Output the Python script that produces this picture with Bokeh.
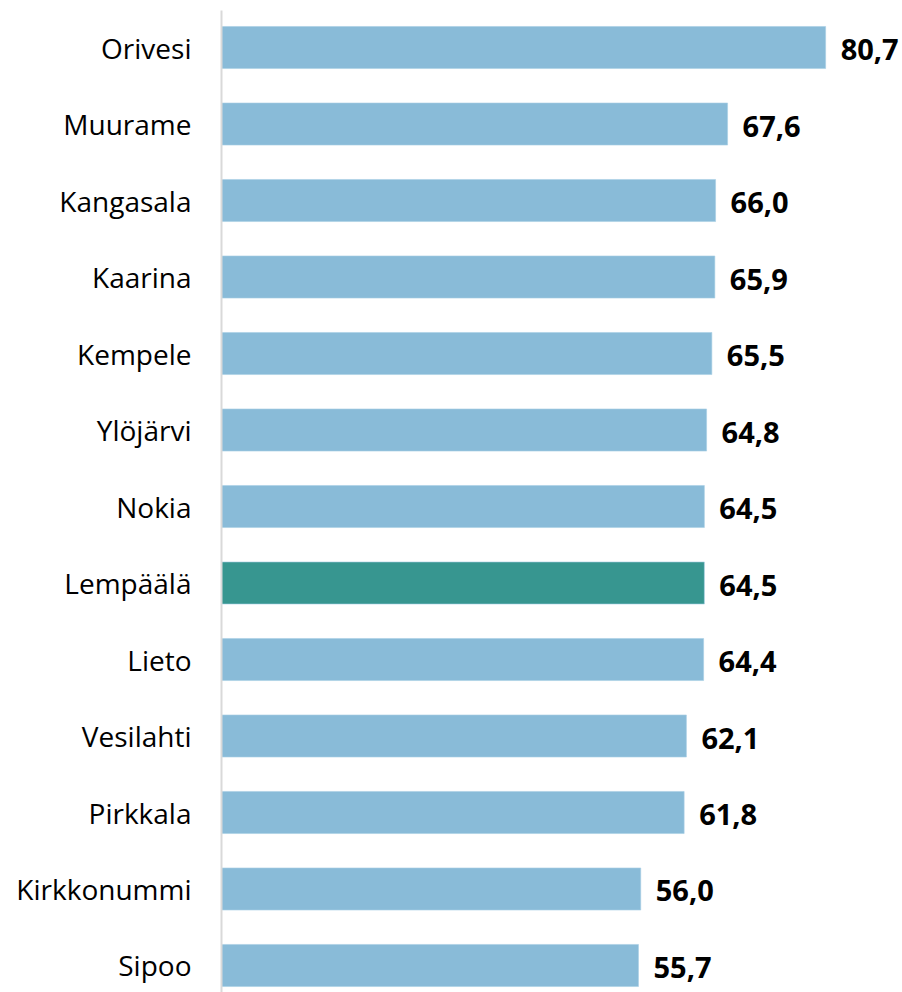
from bokeh.plotting import figure
from bokeh.models import ColumnDataSource, Range1d, FixedTicker
from bokeh.core.properties import value
from bokeh.embed import file_html
from bokeh.resources import INLINE

municipalities = ["Orivesi", "Muurame", "Kangasala", "Kaarina", "Kempele", "Ylöjärvi",
                  "Nokia", "Lempäälä", "Lieto", "Vesilahti", "Pirkkala", "Kirkkonummi", "Sipoo"]
values = [80.7, 67.6, 66.0, 65.9, 65.5, 64.8, 64.5, 64.5, 64.4, 62.1, 61.8, 56.0, 55.7]
highlight = "Lempäälä"

n = len(municipalities)
ypos = [n - 1 - i for i in range(n)]
colors = ["#379690" if m == highlight else "#89bbd8" for m in municipalities]
labels = [f"{v:.1f}".replace(".", ",") for v in values]

src = ColumnDataSource(dict(y=ypos, v=values, c=colors, lab=labels, name=municipalities))

p = figure(width=900, height=992, output_backend="svg", toolbar_location=None,
           x_range=Range1d(0, 90.7), y_range=Range1d(-0.353, 12.484),
           min_border_left=221, min_border_right=0, min_border_top=10, min_border_bottom=0)

p.hbar(y="y", right="v", left=0, height=0.55, fill_color="c", line_color="#a8cfe4",
       line_width=1, line_alpha=0.6, source=src)
p.text(x="v", y="y", text="lab", x_offset=15, y_offset=2, text_baseline="middle",
       text_align="left", text_font=value("Open Sans"), text_font_style="bold",
       text_font_size="29px", text_color="#000000", source=src)

p.xaxis.visible = False
p.xgrid.visible = False
p.ygrid.visible = False
p.outline_line_color = None

ax = p.yaxis[0]
ax.ticker = FixedTicker(ticks=ypos)
ax.major_label_overrides = {y: m for y, m in zip(ypos, municipalities)}
ax.major_tick_line_color = None
ax.minor_tick_line_color = None
ax.major_tick_out = 0
ax.major_tick_in = 0
ax.axis_line_color = "#d9d9d9"
ax.axis_line_width = 2
ax.major_label_standoff = 30
ax.major_label_text_font = "Open Sans"
ax.major_label_text_font_size = "28px"
ax.major_label_text_color = "#000000"

open("out.html", "w").write(file_html(p, INLINE))
